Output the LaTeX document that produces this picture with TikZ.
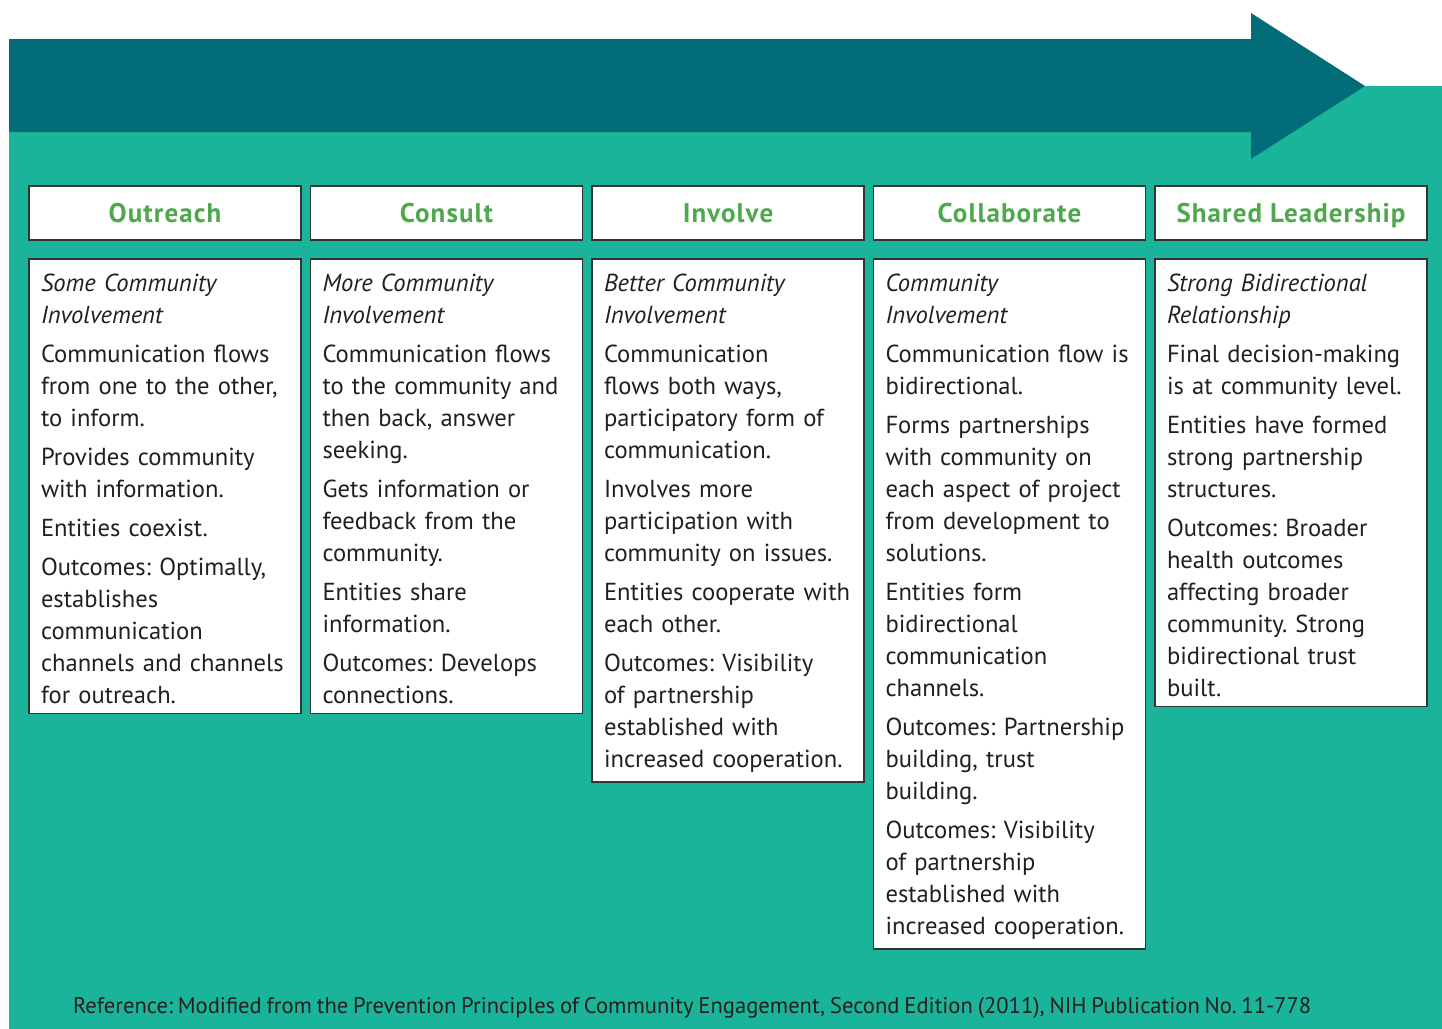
\documentclass[tikz,border=0pt]{standalone}
\usepackage{fontspec}
\setmainfont[WordSpace=0.8]{PT Sans}
\newfontfamily\headfont[LetterSpace=4]{PT Sans}
\usetikzlibrary{calc}
\hyphenpenalty=10000
\exhyphenpenalty=10000
\frenchspacing

\definecolor{darkteal}{HTML}{036C79}
\definecolor{teal}{HTML}{1AB49B}
\definecolor{headgreen}{HTML}{4EA84C}
\definecolor{boxline}{HTML}{333333}
\definecolor{ink}{HTML}{231F20}

\tikzset{
  head/.style={draw=boxline, line width=0.75pt, fill=white, minimum width=136pt, minimum height=27pt,
    text height=11.5pt, text depth=2.5pt,
    font=\headfont\bfseries\fontsize{13.5}{16}\selectfont, text=headgreen},
  body/.style={draw=boxline, line width=0.75pt, fill=white, anchor=north, text width=124pt,
    inner xsep=6pt, inner ysep=5pt, align=left, text=ink,
    font=\fontsize{12.3}{16}\selectfont, execute at begin node=\strut},
}
\newcommand{\gap}{\\[3.5pt]}

\begin{document}
\begin{tikzpicture}[x=0.5pt, y=-0.5pt]
\useasboundingbox (0, 0) rectangle (1442, 1029);
\fill[teal] (9, 86) rectangle (1442, 1029);
\fill[darkteal] (9, 39) -- (1251, 39) -- (1251, 13) -- (1365, 86) -- (1251, 159) -- (1251, 132) -- (9, 132) -- cycle;

\node[head] (hOut) at (165, 213) {Outreach};
\node[head] (hCon) at (446.5, 213) {Consult};
\node[head] (hInv) at (728, 213) {Involve};
\node[head] (hCol) at (1009.5, 213) {Collaborate};
\node[head] (hSha) at (1291, 213) {Shared Leadership};

\node[body] (bOut) at (165, 258) {\textit{Some Community\\ Involvement}\gap
Communication flows\\ from one to the other,\\ to inform.\gap
Provides community\\ with information.\gap
Entities coexist.\gap
Outcomes: Optimally,\\ establishes\\ communication\\ channels and channels\\ for outreach.};

\node[body] (bCon) at (446.5, 258) {\textit{More Community\\ Involvement}\gap
Communication flows\\ to the community and\\ then back, answer\\ seeking.\gap
Gets information or\\ feedback from the\\ community.\gap
Entities share\\ information.\gap
Outcomes: Develops\\ connections.};

\node[body] (bInv) at (728, 258) {\textit{Better Community\\ Involvement}\gap
Communication\\ flows both ways,\\ participatory form of\\ communication.\gap
Involves more\\ participation with\\ community on issues.\gap
Entities cooperate with\\ each other.\gap
Outcomes: Visibility\\ of partnership\\ established with\\ increased cooperation.};

\node[body] (bCol) at (1009.5, 258) {\textit{Community\\ Involvement}\gap
Communication flow is\\ bidirectional.\gap
Forms partnerships\\ with community on\\ each aspect of project\\ from development to\\ solutions.\gap
Entities form\\ bidirectional\\ communication\\ channels.\gap
Outcomes: Partnership\\ building, trust\\ building.\gap
Outcomes: Visibility\\ of partnership\\ established with\\ increased cooperation.};

\node[body] (bSha) at (1291, 258) {\textit{Strong Bidirectional\\ Relationship}\gap
Final decision-making\\ is at community level.\gap
Entities have formed\\ strong partnership\\ structures.\gap
Outcomes: Broader\\ health outcomes\\ affecting broader\\ community. Strong\\ bidirectional trust\\ built.};

\node[anchor=west, text=ink, font=\fontsize{11.3}{13}\selectfont] (refnote) at (66, 1008) {Reference: Modified from the Prevention Principles of Community Engagement, Second Edition (2011), NIH Publication No. 11-778};
\end{tikzpicture}
\end{document}
